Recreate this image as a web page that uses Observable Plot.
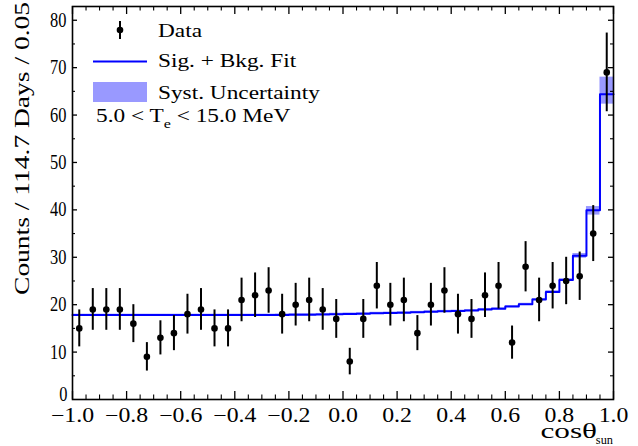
<!DOCTYPE html>
<html><head><meta charset="utf-8">
<script src="https://cdn.jsdelivr.net/npm/d3@7"></script>
<script src="https://cdn.jsdelivr.net/npm/@observablehq/plot@0.6"></script>
<style>
html,body{margin:0;padding:0;background:#fff;}
svg text{font-family:"Liberation Serif","Times New Roman",serif;}
</style></head><body><div id="chart"></div>
<script>
// ---- data (40 bins of width 0.05 in cos(theta_sun)) ----
const counts = [15,19,19,19,16,9,13,14,18,19,15,15,21,22,23,18,20,21,19,17,
                8,17,24,20,21,14,20,23,18,17,22,24,12,28,21,24,25,26,35,69];
const countErr = [3.9,4.4,4.4,4.4,4.0,3.0,3.6,3.7,4.2,4.4,3.9,3.9,4.6,4.7,4.8,4.2,4.5,4.6,4.4,4.1,
                  2.8,4.1,4.9,4.5,4.6,3.7,4.5,4.8,4.2,4.1,4.7,4.9,3.5,5.3,4.6,4.9,5.0,5.1,5.9,8.3];
const fitValues = [17.8,17.8,17.8,17.8,17.8,17.8,17.8,17.8,17.8,17.8,17.8,17.8,17.8,17.8,
                   17.8,17.85,17.9,17.9,17.95,18.0,18.05,18.1,18.2,18.25,18.3,18.4,18.5,18.6,
                   18.65,18.75,19.0,19.15,19.6,20.1,21.1,22.7,25.2,30.3,39.9,64.4];
const systDown = [0.2,0.2,0.2,0.2,0.2,0.2,0.2,0.2,0.2,0.2,0.2,0.2,0.2,0.2,0.2,0.2,0.2,0.2,0.2,0.2,
                  0.2,0.2,0.2,0.2,0.2,0.2,0.2,0.2,0.2,0.2,0.2,0.2,0.2,0.2,0.2,0.25,0.3,0.5,1.0,2.1];
const systUp   = [0.2,0.2,0.2,0.2,0.2,0.2,0.2,0.2,0.2,0.2,0.2,0.2,0.2,0.2,0.2,0.2,0.2,0.2,0.2,0.2,
                  0.2,0.2,0.2,0.2,0.2,0.2,0.2,0.2,0.2,0.2,0.2,0.2,0.2,0.2,0.2,0.25,0.3,0.5,0.8,3.6];
const xMajorTicks = [-1.0,-0.8,-0.6,-0.4,-0.2,0.0,0.2,0.4,0.6,0.8,1.0];
const yMajorTicks = [10,20,30,40,50,60,70,80];
const yZeroTick = [0];
const binWidth = 0.05;
const xMin = -1, xMax = 1, yMax = 82.9;

// ---- tables built from the arrays ----
const bins = counts.map((n, i) => {
  const lo = xMin + i * binWidth;
  return {lo, hi: lo + binWidth, c: lo + binWidth / 2, n, e: countErr[i],
          fit: fitValues[i], dn: systDown[i], up: systUp[i]};
});
const steps = bins.map(b => ({x: b.lo, y: b.fit}));
steps.push({x: xMax, y: fitValues[fitValues.length - 1]});
const xMinorTicks = d3.range(0, 41).map(i => xMin + i * binWidth)
  .filter(v => !xMajorTicks.some(t => Math.abs(t - v) < 1e-6));
const yMinorTicks = d3.range(1, 17).map(i => i * 5).filter(v => v % 10 !== 0);

const W = 638, H = 446, mL = 72, mR = 25, mT = 6, mB = 47;
const fw = W - mL - mR, fh = H - mT - mB;
const BLUE = "#0000ff", BAND = "#9999ff";

const plot = Plot.plot({
  width: W, height: H,
  marginLeft: mL, marginRight: mR, marginTop: mT, marginBottom: mB,
  x: {domain: [xMin, xMax], label: null},
  y: {domain: [0, yMax], label: null},
  style: {fontFamily: "Liberation Serif", fontSize: "20px", background: "#fff", color: "#000", overflow: "visible"},
  marks: [
    Plot.rect(bins, {x1: "lo", x2: "hi", y1: d => d.fit - d.dn, y2: d => d.fit + d.up, fill: BAND}),
    Plot.line(steps, {x: "x", y: "y", curve: "step-after", stroke: BLUE, strokeWidth: 2}),
    Plot.ruleX(bins, {x: "c", y1: d => d.n - d.e, y2: d => d.n + d.e, stroke: "#000", strokeWidth: 2}),
    Plot.dot(bins, {x: "c", y: "n", r: 3.3, fill: "#000", stroke: null}),
    // inward ticks: bottom / top
    Plot.tickX(xMajorTicks, {insetTop: fh - 8, stroke: "#000", strokeWidth: 1.3}),
    Plot.tickX(xMinorTicks, {insetTop: fh - 4.5, stroke: "#000", strokeWidth: 1.1}),
    Plot.tickX(xMajorTicks, {insetBottom: fh - 8, stroke: "#000", strokeWidth: 1.3}),
    Plot.tickX(xMinorTicks, {insetBottom: fh - 4.5, stroke: "#000", strokeWidth: 1.1}),
    // inward ticks: left / right
    Plot.tickY(yMajorTicks, {insetRight: fw - 5, stroke: "#000", strokeWidth: 1.3}),
    Plot.tickY(yMinorTicks, {insetRight: fw - 3, stroke: "#000", strokeWidth: 1.1}),
    Plot.tickY(yMajorTicks, {insetLeft: fw - 5, stroke: "#000", strokeWidth: 1.3}),
    Plot.tickY(yMinorTicks, {insetLeft: fw - 3, stroke: "#000", strokeWidth: 1.1}),
    Plot.frame({stroke: "#000", strokeWidth: 1.6}),
    Plot.axisX(xMajorTicks, {tickSize: 0, tickPadding: 8, tickFormat: d3.format(".1f"), fontSize: 20, label: null}),
    Plot.axisY(yMajorTicks, {tickSize: 0, tickPadding: 6, fontSize: 20.5, label: null}),
    Plot.axisY(yZeroTick, {tickSize: 0, tickPadding: 5, dy: -5, fontSize: 20.5, label: null})
  ]
});
document.getElementById("chart").append(plot);

// widen / narrow glyphs horizontally about their anchor (reference font is wider)
function stretch(nodes, s) {
  nodes.forEach(t => {
    const x = +(t.getAttribute("x") || 0);
    const tr = t.getAttribute("transform") || "";
    t.setAttribute("transform", `${tr} translate(${x},0) scale(${s},1) translate(${-x},0)`);
  });
}
stretch(plot.querySelectorAll('g[aria-label="x-axis tick label"] text'), 1.19);
stretch(plot.querySelectorAll('g[aria-label="y-axis tick label"] text'), 0.8);

// ---- legend & titles ----
const svg = d3.select(plot);
const g = svg.append("g").attr("fill", "#000").attr("text-anchor", "start");
// Data entry
g.append("line").attr("x1", 120).attr("x2", 120).attr("y1", 21).attr("y2", 39)
  .attr("stroke", "#000").attr("stroke-width", 2);
g.append("circle").attr("cx", 120).attr("cy", 30).attr("r", 3.3).attr("fill", "#000");
// Fit entry
g.append("line").attr("x1", 93).attr("x2", 147).attr("y1", 61.5).attr("y2", 61.5)
  .attr("stroke", BLUE).attr("stroke-width", 2);
// Syst entry
g.append("rect").attr("x", 93).attr("y", 82).attr("width", 54).attr("height", 20).attr("fill", BAND);

const legendTexts = [
  {t: "Data", y: 36.7},
  {t: "Sig. + Bkg. Fit", y: 67},
  {t: "Syst. Uncertainty", y: 99}
];
legendTexts.forEach(d => {
  g.append("text").attr("transform", `translate(158,${d.y}) scale(1.19,1)`)
    .attr("text-anchor", "start").attr("font-size", 19.6).text(d.t);
});
// energy range with subscript
const te = g.append("text").attr("transform", "translate(96,121.7) scale(1.19,1)")
  .attr("text-anchor", "start").attr("font-size", 19.6);
te.append("tspan").text("5.0 < T");
te.append("tspan").attr("font-size", 13.5).attr("dy", 6.5).text("e");
te.append("tspan").attr("dy", -6.5).text(" < 15.0 MeV");

// y title
g.append("text").attr("transform", "translate(28.5,2) rotate(-90) scale(1.25,1)")
  .attr("text-anchor", "end").attr("font-size", 22).text("Counts / 114.7 Days / 0.05");

// x title
g.append("text").attr("transform", "translate(597,438) scale(1.42,1)")
  .attr("text-anchor", "end").attr("font-size", 22).text("cosθ");
g.append("text").attr("transform", "translate(613,444) scale(0.95,1)")
  .attr("text-anchor", "end").attr("font-size", 13).text("sun");
</script>
</body></html>
